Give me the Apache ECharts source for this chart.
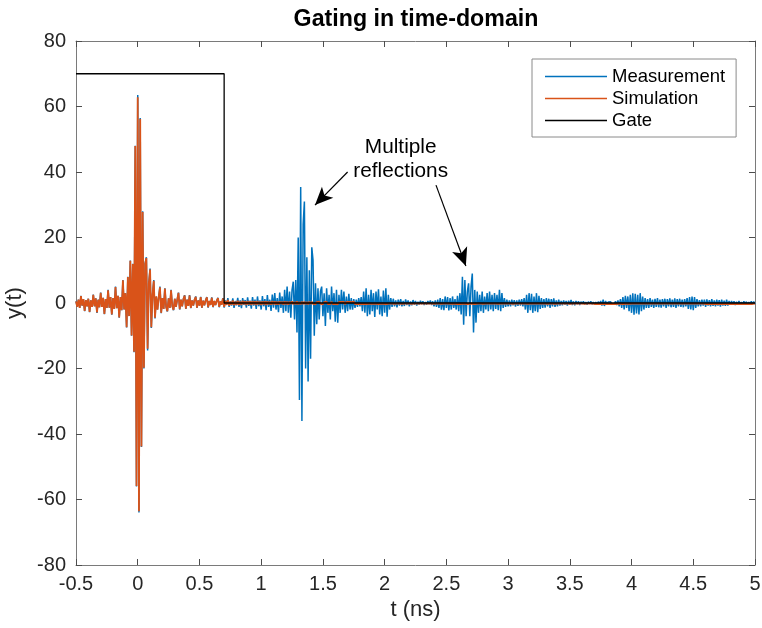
<!DOCTYPE html>
<html>
<head>
<meta charset="utf-8">
<script src="https://cdn.jsdelivr.net/npm/echarts@6/dist/echarts.min.js"></script>
<style>html,body{margin:0;padding:0;background:#fff}#c{width:762px;height:628px}</style>
</head>
<body>
<div id="c"></div>
<script>
// sampling grid of the time traces (ns)
const t0 = -0.5;
const dt = 0.01;

// Measurement y(t), one value per 0.01 ns from -0.5 to 5.0
const measurement = [
  0.5, -1.2, 1.0, -1.5, 2.2, -0.8, 1.2, -2.5, 0.9, -1.0,
  1.3, -2.8, 0.8, -1.2, 2.6, -1.0, 1.4, -3.0, 1.0, -1.3,
  3.2, -1.2, 1.6, -3.4, 1.2, -1.5, 4.0, -1.4, 1.8, -3.6,
  1.5, -1.8, 5.0, -1.6, 2.2, -4.5, 1.8, -2.2, 7.0, -2.0,
  3.0, -7.5, 8.0, -4.0, 13.0, -10.0, 12.0, -15.0, 48.0, -56.0,
  63.5, -64.0, 56.5, -44.0, 28.0, -20.0, 12.0, 14.0, -14.5, 6.0,
  10.5, -7.6, 2.5, 7.0, -4.7, 2.0, -2.0, 1.8, 5.0, -3.1,
  1.5, -1.8, 4.5, -1.2, -2.6, 1.4, -1.5, 4.0, -1.0, -2.2,
  1.3, -1.2, 1.0, 3.2, -2.0, 1.0, -1.0, 1.2, 2.4, -1.8,
  1.0, -0.9, 2.4, -1.6, 0.8, -0.8, 1.0, 2.0, -1.5, 0.8,
  -0.8, 1.9, -1.5, 0.7, -0.7, 0.8, 1.8, -1.4, 0.6, -0.6,
  1.7, -1.3, 0.6, -0.6, 0.7, 1.6, -1.3, 0.5, -0.5, 1.5,
  -1.4, 0.8, -0.6, 1.5, -1.2, 0.5, -0.8, 1.4, -1.5, 0.6,
  -0.7, 1.6, -1.2, 0.8, -1.6, 1.5, -0.6, 0.9, -1.4, 1.7,
  -0.9, 0.7, -1.7, 1.8, -0.8, 1.0, -1.8, 2.0, -1.0, 0.8,
  -2.0, 2.1, -1.0, 1.2, -2.2, 2.4, -1.2, 1.0, -2.4, 2.6,
  -1.4, 3.0, -2.0, 1.5, -2.8, 3.2, -1.5, 2.0, -3.0, 4.0,
  -2.5, 5.0, -3.0, 3.5, -4.5, 4.0, 6.5, -5.0, 7.0, -9.0,
  20.0, -29.6, 35.4, -36.0, 24.0, 31.0, -20.0, 14.0, -24.0, 10.0,
  -17.0, 17.0, 13.0, -10.0, 6.0, -6.5, 4.5, -5.0, 3.5, 5.0,
  -4.0, 3.0, -7.0, 4.5, -3.0, 2.5, -5.0, 5.0, -2.5, 3.0,
  -5.7, 4.0, -6.0, 2.5, -3.0, 4.0, -2.0, 3.5, -3.0, 2.0,
  -2.5, 2.8, -2.0, 1.5, -2.0, 1.2, -1.5, 1.0, -1.2, 1.5,
  -1.0, 1.8, -2.5, 3.5, -3.0, 4.5, -4.0, 2.5, -3.5, 4.0,
  -2.5, 3.0, -4.3, 3.5, -2.0, 4.2, -3.5, 2.0, -4.0, 3.8,
  -3.0, 4.5, -4.2, 2.5, -2.0, 1.5, -1.2, 1.3, -1.0, 0.8,
  -1.3, 1.0, -0.8, 1.2, -1.0, 0.6, -0.9, 1.1, -0.6, 0.8,
  -1.0, 0.5, -0.7, 0.9, -0.5, 0.6, -0.8, 0.4, -0.5, 0.7,
  -0.4, 0.5, -0.6, 0.3, -0.5, 0.6, -0.4, 0.8, -0.6, 0.5,
  -1.0, 0.8, -1.2, 1.0, -1.5, 1.5, -2.0, 1.2, -2.2, 2.0,
  -1.5, 1.8, -2.3, 1.5, -2.0, 2.0, -1.5, 1.2, -2.0, 2.2,
  -2.5, 3.0, -3.5, 8.0, -6.6, 7.0, -4.0, 3.5, 6.0, -4.0,
  5.0, 9.0, -9.0, 4.0, -6.0, 3.5, -3.0, 2.5, -2.5, 3.5,
  -3.0, 2.0, -2.0, 3.0, -2.5, 3.5, -2.0, 2.5, -2.5, 3.0,
  -1.8, 2.5, -2.2, 4.0, -2.5, 3.0, -1.5, 1.5, -1.2, 1.0,
  -1.0, 0.8, -1.0, 1.0, -0.7, 0.9, -1.1, 0.8, -0.9, 1.0,
  -0.8, 1.2, -1.0, 1.5, -2.0, 2.5, -3.0, 3.0, -2.2, 2.8,
  -3.0, 2.0, -2.5, 3.0, -2.8, 2.2, -1.8, 1.5, -1.5, 1.2,
  -1.4, 1.5, -1.0, 1.3, -1.5, 1.2, -1.0, 1.4, -1.2, 0.8,
  -1.0, 1.0, -0.8, 0.6, -0.7, 0.8, -0.5, 0.6, -0.8, 0.7,
  -0.5, 0.9, -0.6, 0.5, -0.7, 0.6, -0.4, 0.5, -0.6, 0.4,
  -0.3, 0.5, -0.4, 0.3, -0.5, 0.4, -0.3, 0.5, -0.4, 0.3,
  -0.4, 0.3, -0.5, 0.4, -0.3, 0.6, -0.8, 1.0, -0.9, 0.6,
  -0.4, 0.3, -0.3, 0.4, -0.3, 0.3, -0.4, 0.5, -0.6, 0.8,
  -1.0, 1.2, -1.5, 1.8, -2.0, 2.2, -1.5, 2.0, -2.5, 2.5,
  -3.0, 3.0, -3.6, 2.8, -3.2, 2.5, -3.5, 3.0, -2.5, 2.0,
  -2.0, 1.5, -1.5, 1.2, -1.5, 1.5, -1.2, 1.0, -1.5, 1.3,
  -1.2, 1.5, -1.3, 1.0, -1.4, 1.2, -1.0, 1.3, -1.5, 1.2,
  -1.0, 1.4, -1.3, 1.0, -1.2, 1.4, -1.5, 1.2, -1.0, 1.3,
  -1.2, 1.0, -1.3, 1.2, -1.0, 1.5, -1.8, 1.8, -2.0, 2.0,
  -2.2, 1.8, -1.5, 1.2, -1.0, 0.9, -1.0, 1.0, -0.8, 1.0,
  -1.2, 1.1, -0.8, 0.9, -1.0, 1.2, -0.9, 0.8, -1.0, 1.0,
  -0.8, 0.9, -1.1, 1.0, -0.8, 0.7, -0.9, 1.0, -0.8, 0.6,
  -0.5, 0.6, -0.4, 0.5, -0.6, 0.4, -0.5, 0.6, -0.4, 0.3,
  -0.4, 0.5, -0.3, 0.4, -0.5, 0.3, -0.4, 0.5, -0.3, 0.4,
  -0.3
];

// Simulation y(t), same sampling
const simulation = [
  0.5, -1.2, 1.0, -1.5, 2.1, -0.8, 1.2, -2.4, 0.9, -1.0,
  1.3, -2.7, 0.8, -1.2, 2.5, -1.0, 1.4, -2.9, 1.0, -1.3,
  3.1, -1.2, 1.6, -3.3, 1.2, -1.5, 3.9, -1.4, 1.8, -3.5,
  1.5, -1.8, 4.9, -1.6, 2.2, -4.4, 1.8, -2.2, 6.9, -2.0,
  3.0, -7.4, 7.9, -4.0, 12.9, -9.9, 11.9, -14.9, 47.9, -55.9,
  62.8, -63.6, 56.2, -43.8, 27.8, -19.8, 12.0, 13.7, -14.0, 6.0,
  10.2, -7.4, 2.5, 6.8, -4.5, 2.0, -2.0, 1.8, 4.8, -3.0,
  1.5, -1.8, 4.4, -1.2, -2.5, 1.4, -1.5, 3.9, -1.0, -2.1,
  1.3, -1.2, 1.0, 3.1, -1.9, 1.0, -1.0, 1.2, 2.3, -1.7,
  1.0, -0.9, 2.3, -1.5, 0.8, -0.8, 1.0, 1.9, -1.4, 0.8,
  -0.8, 1.8, -1.4, 0.7, -0.7, 0.8, 1.7, -1.3, 0.6, -0.6,
  1.6, -1.2, 0.6, -0.6, 0.7, 1.5, -1.2, 0.5, -0.5, 1.4,
  -1.2, 0.6, -0.5, 0.9, -0.8, 0.4, -0.5, 0.8, -0.7, 0.4,
  -0.5, 0.7, -0.6, 0.4, -0.6, 0.7, -0.4, 0.5, -0.6, 0.6,
  -0.4, 0.5, -0.6, 0.6, -0.4, 0.5, -0.6, 0.6, -0.4, 0.4,
  -0.6, 0.5, -0.4, 0.5, -0.6, 0.5, -0.4, 0.4, -0.5, 0.6,
  -0.4, 0.5, -0.5, 0.4, -0.5, 0.5, -0.3, 0.4, -0.5, 0.5,
  -0.4, 0.4, -0.5, 0.4, -0.3, 0.5, -0.4, 0.3, -0.4, 0.5,
  -0.4, 0.3, -0.4, 0.4, -0.3, 0.4, -0.4, 0.3, -0.4, 0.4,
  -0.3, 0.4, -0.3, 0.3, -0.4, 0.3, -0.3, 0.4, -0.3, 0.3,
  -0.4, 0.3, -0.3, 0.4, -0.3, 0.3, -0.3, 0.4, -0.3, 0.3,
  -0.3, 0.3, -0.4, 0.3, -0.3, 0.3, -0.3, 0.3, -0.4, 0.3,
  -0.3, 0.3, -0.3, 0.3, -0.3, 0.4, -0.3, 0.3, -0.3, 0.3,
  -0.3, 0.3, -0.3, 0.2, -0.3, 0.3, -0.3, 0.3, -0.2, 0.3,
  -0.3, 0.3, -0.2, 0.3, -0.3, 0.2, -0.3, 0.3, -0.2, 0.3,
  -0.3, 0.2, -0.3, 0.3, -0.2, 0.3, -0.2, 0.2, -0.3, 0.2,
  -0.2, 0.3, -0.2, 0.2, -0.3, 0.2, -0.2, 0.3, -0.2, 0.2,
  -0.2, 0.2, -0.3, 0.2, -0.2, 0.2, -0.2, 0.3, -0.2, 0.2,
  -0.2, 0.2, -0.2, 0.2, -0.2, 0.3, -0.2, 0.2, -0.2, 0.2,
  -0.3, 0.2, -0.2, 0.2, -0.2, 0.2, -0.3, 0.2, -0.2, 0.2,
  -0.2, 0.3, -0.2, 0.2, -0.3, 0.2, -0.2, 0.2, -0.3, 0.3,
  -0.3, 0.3, -0.3, 0.3, -0.2, 0.3, -0.3, 0.2, -0.3, 0.3,
  -0.2, 0.3, -0.3, 0.2, -0.3, 0.2, -0.2, 0.3, -0.2, 0.2,
  -0.3, 0.2, -0.2, 0.3, -0.2, 0.2, -0.2, 0.3, -0.2, 0.2,
  -0.2, 0.2, -0.3, 0.2, -0.2, 0.2, -0.2, 0.2, -0.2, 0.3,
  -0.2, 0.2, -0.2, 0.2, -0.3, 0.2, -0.2, 0.2, -0.2, 0.2,
  -0.2, 0.3, -0.2, 0.2, -0.2, 0.2, -0.3, 0.2, -0.2, 0.2,
  -0.2, 0.2, -0.2, 0.3, -0.2, 0.2, -0.2, 0.2, -0.2, 0.3,
  -0.2, 0.2, -0.3, 0.2, -0.2, 0.2, -0.2, 0.2, -0.3, 0.2,
  -0.2, 0.2, -0.2, 0.2, -0.2, 0.3, -0.2, 0.2, -0.2, 0.2,
  -0.3, 0.2, -0.2, 0.2, -0.2, 0.2, -0.2, 0.3, -0.2, 0.2,
  -0.2, 0.2, -0.3, 0.2, -0.2, 0.2, -0.2, 0.2, -0.2, 0.3,
  -0.3, 0.3, -0.3, 0.3, -0.3, 0.3, -0.3, 0.3, -0.3, 0.3,
  -0.3, 0.3, -0.3, 0.3, -0.3, 0.3, -0.3, 0.3, -0.3, 0.3,
  -0.2, 0.3, -0.3, 0.2, -0.3, 0.3, -0.2, 0.3, -0.3, 0.2,
  -0.2, 0.2, -0.2, 0.2, -0.2, 0.2, -0.2, 0.2, -0.2, 0.2,
  -0.2, 0.2, -0.2, 0.2, -0.2, 0.2, -0.2, 0.2, -0.2, 0.2,
  -0.2, 0.2, -0.2, 0.2, -0.2, 0.2, -0.2, 0.2, -0.2, 0.2,
  -0.2, 0.2, -0.2, 0.2, -0.2, 0.2, -0.2, 0.2, -0.2, 0.2,
  -0.2, 0.2, -0.2, 0.2, -0.2, 0.2, -0.2, 0.2, -0.2, 0.2,
  -0.2, 0.2, -0.2, 0.2, -0.2, 0.2, -0.2, 0.2, -0.2, 0.2,
  -0.3, 0.3, -0.3, 0.3, -0.3, 0.3, -0.3, 0.3, -0.3, 0.3,
  -0.3, 0.3, -0.3, 0.3, -0.3, 0.3, -0.3, 0.3, -0.3, 0.3,
  -0.3, 0.3, -0.3, 0.3, -0.3, 0.3, -0.3, 0.3, -0.3, 0.3,
  -0.3, 0.3, -0.3, 0.3, -0.3, 0.3, -0.3, 0.3, -0.3, 0.3,
  -0.2
];

// Gate window
const gateT = [-0.5, 0.7, 0.7, 5.0];
const gateV = [70, 70, 0, 0];

// Axis ticks
const xMin = -0.5, xMax = 5, xStep = 0.5;
const yMin = -80, yMax = 80, yStep = 20;

// Annotation (data coordinates)
const noteText = 'Multiple\nreflections';
const notePos = [2.13, 43.9];
const arrows = [
  [[1.70, 40.0], [1.436, 29.9]],
  [[2.416, 36.0], [2.658, 11.3]]
];

const FONT = '"Liberation Sans", Arial, Helvetica, sans-serif';
const LINE_ICON = 'path://M0,0h62v1.4h-62z';

function toPairs(vals) {
  return vals.map((v, i) => [+(t0 + i * dt).toFixed(4), v]);
}

const chart = echarts.init(document.getElementById('c'), null, { renderer: 'canvas' });

const axisLineStyle = { color: '#7a7a7a', width: 1 };
const tickStyle = { color: '#4d4d4d', width: 1 };

chart.setOption({
  animation: false,
  backgroundColor: '#fff',
  textStyle: { fontFamily: FONT },
  title: {
    text: 'Gating in time-domain',
    left: 411, top: 3, textAlign: 'center',
    textStyle: { fontFamily: FONT, fontWeight: 'bold', fontSize: 23.2, color: '#000' }
  },
  grid: { left: 76, right: 7, top: 41, bottom: 63, containLabel: false, outerBoundsMode: 'none' },
  legend: {
    orient: 'vertical',
    left: 532, top: 59,
    data: [
      { name: 'Measurement', icon: LINE_ICON },
      { name: 'Simulation', icon: LINE_ICON },
      { name: 'Gate', icon: LINE_ICON }
    ],
    symbolKeepAspect: true,
    itemWidth: 62, itemHeight: 14, itemGap: 3,
    padding: [8, 11, 7, 13],
    borderColor: '#8a8a8a', borderWidth: 1,
    backgroundColor: '#fff',
    textStyle: { fontFamily: FONT, fontSize: 18.5, color: '#000', lineHeight: 18 },
    selectedMode: false
  },
  xAxis: [{
    type: 'value', min: xMin, max: xMax, interval: xStep, position: 'bottom',
    axisLine: { show: true, onZero: false, lineStyle: axisLineStyle },
    axisTick: { show: true, inside: true, length: 6, lineStyle: tickStyle },
    axisLabel: { fontFamily: FONT, fontSize: 20, color: '#262626', margin: 9 },
    splitLine: { show: false },
    name: 't (ns)', nameLocation: 'middle', nameGap: 32,
    nameTextStyle: { fontFamily: FONT, fontSize: 22, color: '#262626' }
  }, {
    type: 'value', min: xMin, max: xMax, interval: xStep, position: 'top',
    axisLine: { show: true, onZero: false, lineStyle: axisLineStyle },
    axisTick: { show: true, inside: true, length: 6, lineStyle: tickStyle },
    axisLabel: { show: false }, splitLine: { show: false }
  }],
  yAxis: [{
    type: 'value', min: yMin, max: yMax, interval: yStep, position: 'left',
    axisLine: { show: true, onZero: false, lineStyle: axisLineStyle },
    axisTick: { show: true, inside: true, length: 6, lineStyle: tickStyle },
    axisLabel: { fontFamily: FONT, fontSize: 20, color: '#262626', margin: 10 },
    splitLine: { show: false },
    name: 'y(t)', nameLocation: 'middle', nameGap: 44, nameRotate: 90,
    nameTextStyle: { fontFamily: FONT, fontSize: 22, color: '#262626' }
  }, {
    type: 'value', min: yMin, max: yMax, interval: yStep, position: 'right',
    axisLine: { show: true, onZero: false, lineStyle: axisLineStyle },
    axisTick: { show: true, inside: true, length: 6, lineStyle: tickStyle },
    axisLabel: { show: false }, splitLine: { show: false }
  }],
  series: [{
    name: 'Measurement', type: 'line', data: toPairs(measurement),
    showSymbol: false, symbol: 'none', sampling: null, z: 2,
    lineStyle: { color: '#0072BD', width: 1.5 }, itemStyle: { color: '#0072BD' }
  }, {
    name: 'Simulation', type: 'line', data: toPairs(simulation),
    showSymbol: false, symbol: 'none', z: 3,
    lineStyle: { color: '#D95319', width: 1.8 }, itemStyle: { color: '#D95319' }
  }, {
    name: 'Gate', type: 'line', data: gateT.map((t, i) => [t, gateV[i]]),
    showSymbol: false, symbol: 'none', z: 4,
    lineStyle: { color: '#000', width: 1.3 }, itemStyle: { color: '#000' }
  }, {
    name: 'note', type: 'scatter', data: [notePos], symbolSize: 1, z: 5, silent: true,
    itemStyle: { color: 'rgba(0,0,0,0)', opacity: 1 },
    label: {
      show: true, position: 'inside', formatter: noteText,
      fontFamily: FONT, fontSize: 20.8, lineHeight: 24, color: '#000', opacity: 1,
      align: 'center', verticalAlign: 'middle', textBorderWidth: 0, textShadowBlur: 0
    },
    markLine: {
      silent: true, symbol: ['none', 'arrow'], symbolSize: [12, 18],
      label: { show: false },
      lineStyle: { color: '#000', width: 1.2, type: 'solid', opacity: 1 },
      emphasis: { disabled: true },
      data: arrows.map(a => [{ coord: a[0] }, { coord: a[1] }])
    }
  }]
});
</script>
</body>
</html>
